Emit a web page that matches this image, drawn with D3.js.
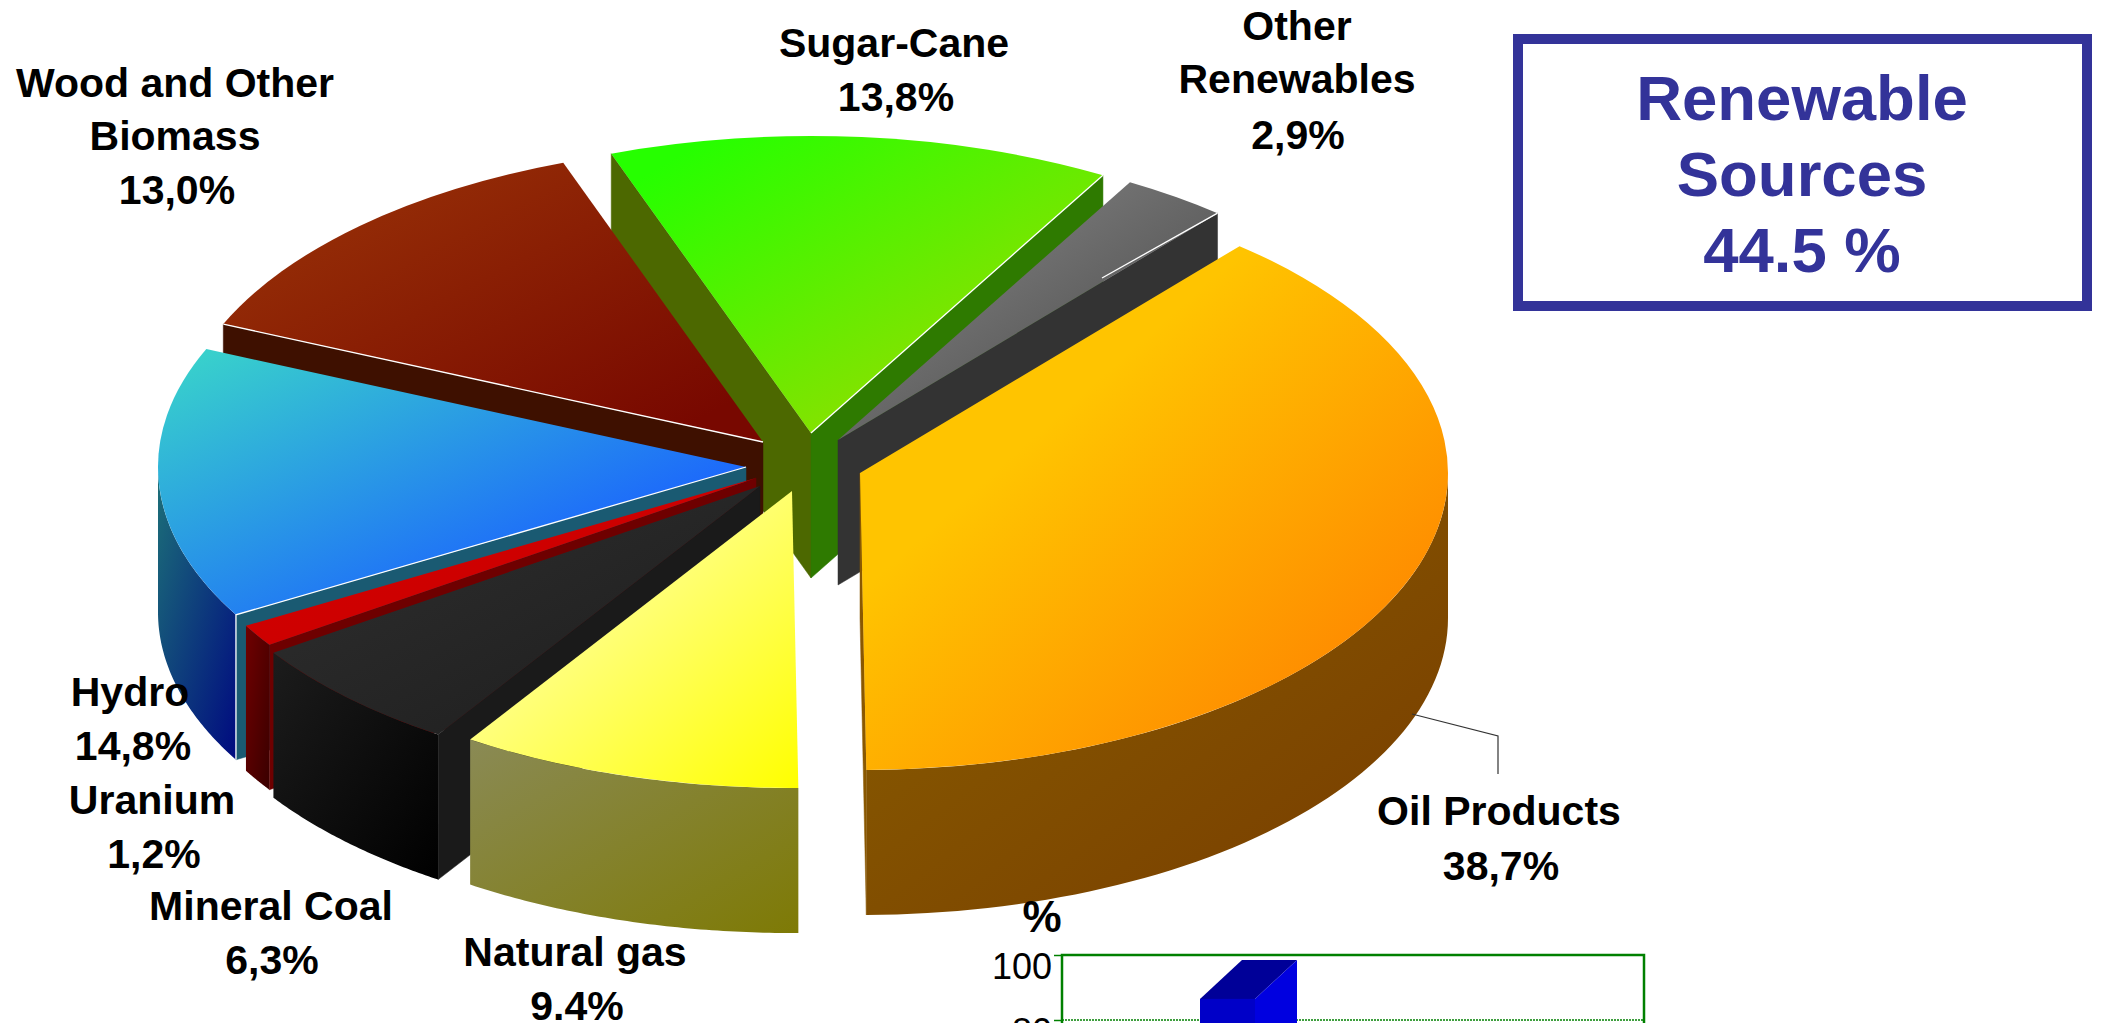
<!DOCTYPE html>
<html><head><meta charset="utf-8">
<script src="https://cdn.jsdelivr.net/npm/d3@7"></script>
<style>
html,body{margin:0;padding:0;background:#fff;overflow:hidden}
svg{display:block}
text{font-family:"Liberation Sans",Arial,sans-serif;font-weight:bold}
</style></head><body><svg id="c" width="2104" height="1023"></svg>
<script>
// ---- data ----
const categories = ["Oil Products","Natural gas","Mineral Coal","Uranium","Hydro","Wood and Other Biomass","Sugar-Cane","Other Renewables"];
const shares = [38.7,9.4,6.3,1.2,14.8,13.0,13.8,2.9];
const shareLabels = ["38,7%","9.4%","6,3%","1,2%","14,8%","13,0%","13,8%","2,9%"];
const boxLines = ["Renewable","Sources","44.5 %"];
const barTicks = [100,80];
const barValues = [98.5];

// ---- layout ----
const W=2104,H=1023;
const RX=588,RY=297,DEPTH=145,START=40.2*Math.PI/180;
const apexes=[[860,473],[792,491],[760,486],[756,478],[746,467],[763,442],[811,433],[838,440]];
const labelLines=[["Oil Products"],["Natural gas"],["Mineral Coal"],["Uranium"],["Hydro"],["Wood and Other","Biomass"],["Sugar-Cane"],["Other","Renewables"]];
const labelPos=[[1499,825],[575,966],[271,920],[152,814],[130,706],[175,97],[894,57],[1297,40]];
const valuePos=[[1501,880],[577,1020],[272,974],[154,868],[133,760],[177,204],[896,111],[1298,149]];
const topCols=[["#ffc400","#fe7c00"],["#ffff80","#ffff00"],["#303030","#1c1c1c"],["#d40000","#c80000"],["#38d0cc","#1a60ff"],["#9c3608","#780800"],["#26ff00","#98dc00"],["#868686","#505050"]];
const topStops=[[.33,.95],[.4,1],[0,1],[0,1],[.05,.78],[0,.9],[.1,.85],[.1,.8]];
const outerCols=[["#8a6000","#783c00"],["#8a8a55","#7e7a05"],["#1c1c1c","#000000"],["#700000","#3a0000"],["#1c7078","#000a80"],["#333","#333"],["#333","#333"],["#333","#333"]];
const startWallCols=["#8a5800","#777","#1a1a1a","#6e0000","#1a5a72","#3e1000","#4c6800","#333"];
const endWallCols=["#8a5800","#777","#111","#600000","#1a5a72","#3e1000","#2e7a00","#333333"];

const svg=d3.select("#c");
const defs=svg.append("defs");
function grad(id,c,st=[0,1]){
  const g=defs.append("linearGradient").attr("id",id).attr("x1",0).attr("y1",0).attr("x2",1).attr("y2",1);
  g.append("stop").attr("offset",st[0]).attr("stop-color",c[0]);
  g.append("stop").attr("offset",st[1]).attr("stop-color",c[1]);
}
const pie=d3.pie().sort(null).startAngle(START).endAngle(START+2*Math.PI);
const arcs=pie(shares);
const rim=(a,t,dy=0)=>[a[0]+RX*Math.sin(t),a[1]-RY*Math.cos(t)+dy];
const line=d3.line();
const arcGen=d3.arc().innerRadius(0).outerRadius(RX);

const pieG=svg.append("g");
// paint from the back slices round to the front ones
const order=[6,7,5,4,3,2,1,0];
order.forEach(i=>{
  const d=arcs[i],a=apexes[i];
  grad("top"+i,topCols[i],topStops[i]);grad("out"+i,outerCols[i]);
  const wall=(t,col)=>pieG.append("path")
    .attr("d",line([a,rim(a,t),rim(a,t,DEPTH),[a[0],a[1]+DEPTH]])+"Z").attr("fill",col).attr("stroke",col).attr("stroke-width",.5);
  if(Math.sin(d.startAngle)<0) wall(d.startAngle,startWallCols[i]);
  if(Math.sin(d.endAngle)>0) wall(d.endAngle,endWallCols[i]);
  let s=d.startAngle,e=d.endAngle;
  s=Math.max(s,Math.PI/2);e=Math.min(e,Math.PI*1.5);
  if(e>s){
    const ts=d3.range(0,61).map(k=>s+(e-s)*k/60);
    const pts=ts.map(t=>rim(a,t)).concat(ts.slice().reverse().map(t=>rim(a,t,DEPTH)));
    pieG.append("path").attr("d",line(pts)+"Z").attr("fill",`url(#out${i})`);
  }
  pieG.append("path").attr("d",arcGen(d))
    .attr("transform",`translate(${a[0]},${a[1]}) scale(1,${RY/RX})`)
    .attr("fill",`url(#top${i})`);
  // fine white highlights along some slice edges
  const hl=(t,extra)=>pieG.append("path").attr("d",line([a,rim(a,t)].concat(extra?[rim(a,t,DEPTH)]:[])))
    .attr("fill","none").attr("stroke","#fff").attr("stroke-width",1.3);
  if(i===5) hl(d.startAngle);
  if(i===4) hl(d.startAngle,true);
  if(i===6) hl(d.endAngle);
  if(i===7) pieG.append("path").attr("d",line([[a[0]+264,a[1]-162],rim(a,d.endAngle)]))
    .attr("fill","none").attr("stroke","#fff").attr("stroke-width",1.3);
});

// leader line for the oil slice
const leader=[[1412,714],[1498,736],[1498,774]];
svg.append("path").attr("d",line(leader)).attr("fill","none").attr("stroke","#333").attr("stroke-width",1.2);

// slice labels
const lab=svg.append("g").attr("font-size",41).attr("fill","#000").attr("text-anchor","middle");
categories.forEach((c,i)=>{
  labelLines[i].forEach((t,k)=>{
    lab.append("text").attr("x",labelPos[i][0]).attr("y",labelPos[i][1]+k*53).text(t);
  });
  lab.append("text").attr("x",valuePos[i][0]).attr("y",valuePos[i][1]).text(shareLabels[i]);
});

// renewable box
svg.append("rect").attr("x",1518).attr("y",39).attr("width",569).attr("height",267)
  .attr("fill","#fff").attr("stroke","#333399").attr("stroke-width",10);
svg.append("g").attr("font-size",63.5).attr("fill","#333399").attr("text-anchor","middle")
  .selectAll("text").data(boxLines).join("text")
  .attr("x",1802).attr("y",(d,i)=>120+i*76).text(d=>d);

// small bar chart, cut by the bottom of the picture
const py=d3.scaleLinear().domain([0,100]).range([1280,955]);
const PL=1062,PR=1644;
const plot=svg.append("g");
plot.append("line").attr("x1",PL).attr("x2",PR).attr("y1",py(80)).attr("y2",py(80))
  .attr("stroke","#008000").attr("stroke-width",1.5).attr("stroke-dasharray","2,1");
plot.append("rect").attr("x",PL).attr("y",py(100)).attr("width",PR-PL).attr("height",py(0)-py(100))
  .attr("fill","none").attr("stroke","#008000").attr("stroke-width",2.5);
const bx=d3.scaleBand().domain(d3.range(barValues.length)).range([1200,1255]);
const DX=42,DY=39;
barValues.forEach((v,i)=>{
  const x0=bx(i),x1=x0+bx.bandwidth(),yb=py(v),yf=yb+DY;
  plot.append("path").attr("d",line([[x0,yf],[x0+DX,yb],[x1+DX,yb],[x1,yf]])+"Z").attr("fill","#000098");
  plot.append("path").attr("d",line([[x1,yf],[x1+DX,yb],[x1+DX,py(0)],[x1,py(0)]])+"Z").attr("fill","#0000e0");
  plot.append("rect").attr("x",x0).attr("y",yf).attr("width",x1-x0).attr("height",py(0)-yf).attr("fill","#0000c8");
});
const ax=svg.append("g").attr("transform",`translate(${PL},0)`)
  .call(d3.axisLeft(py).tickValues(barTicks).tickSize(8).tickPadding(2));
ax.select(".domain").remove();
ax.selectAll(".tick line").attr("stroke","#008000").attr("stroke-width",1.5);
ax.selectAll(".tick text").attr("font-size",36).attr("fill","#000").attr("dy",0).attr("dominant-baseline","hanging")
  .attr("x",-10).attr("y",-3)
  .style("font-family",'"Liberation Sans Narrow","Liberation Sans",sans-serif').style("font-weight","normal");
svg.append("text").attr("x",1042).attr("y",932).attr("text-anchor","middle").attr("font-size",44)
  .style("font-family",'"Liberation Sans Narrow","Liberation Sans",sans-serif').text("%");
</script></body></html>
